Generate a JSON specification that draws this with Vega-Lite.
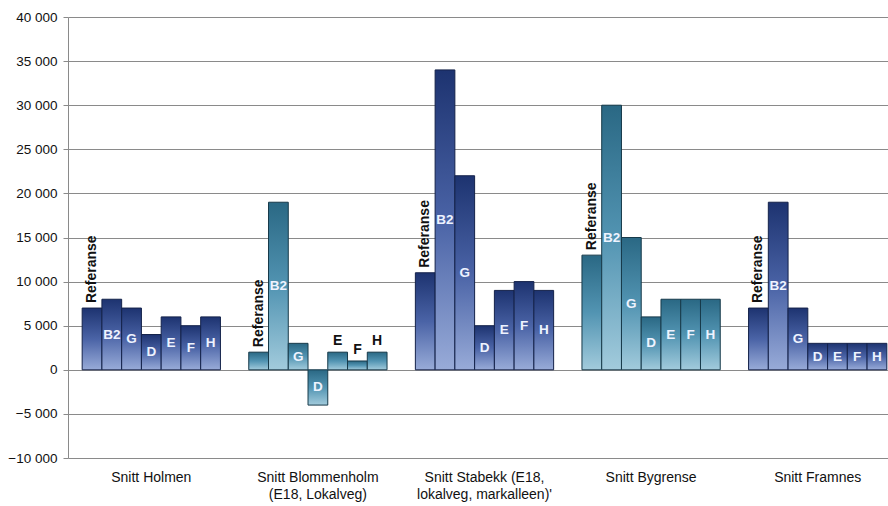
{
  "$schema": "https://vega.github.io/schema/vega-lite/v6.json",
  "autosize": "none",
  "width": 820,
  "height": 441,
  "padding": {"left": 68, "top": 17, "right": 0, "bottom": 48},
  "background": "white",
  "config": {
    "view": {"stroke": null},
    "font": "Liberation Sans",
    "axis": {"labelFont": "Liberation Sans"}
  },
  "data": {
    "values": [
      {"group": "Snitt Holmen", "scenario": "Referanse", "value": 7000},
      {"group": "Snitt Holmen", "scenario": "B2", "value": 8000},
      {"group": "Snitt Holmen", "scenario": "G", "value": 7000},
      {"group": "Snitt Holmen", "scenario": "D", "value": 4000},
      {"group": "Snitt Holmen", "scenario": "E", "value": 6000},
      {"group": "Snitt Holmen", "scenario": "F", "value": 5000},
      {"group": "Snitt Holmen", "scenario": "H", "value": 6000},
      {"group": "Snitt Blommenholm (E18, Lokalveg)", "scenario": "Referanse", "value": 2000},
      {"group": "Snitt Blommenholm (E18, Lokalveg)", "scenario": "B2", "value": 19000},
      {"group": "Snitt Blommenholm (E18, Lokalveg)", "scenario": "G", "value": 3000},
      {"group": "Snitt Blommenholm (E18, Lokalveg)", "scenario": "D", "value": -4000},
      {"group": "Snitt Blommenholm (E18, Lokalveg)", "scenario": "E", "value": 2000},
      {"group": "Snitt Blommenholm (E18, Lokalveg)", "scenario": "F", "value": 1000},
      {"group": "Snitt Blommenholm (E18, Lokalveg)", "scenario": "H", "value": 2000},
      {"group": "Snitt Stabekk (E18, lokalveg, markalleen)'", "scenario": "Referanse", "value": 11000},
      {"group": "Snitt Stabekk (E18, lokalveg, markalleen)'", "scenario": "B2", "value": 34000},
      {"group": "Snitt Stabekk (E18, lokalveg, markalleen)'", "scenario": "G", "value": 22000},
      {"group": "Snitt Stabekk (E18, lokalveg, markalleen)'", "scenario": "D", "value": 5000},
      {"group": "Snitt Stabekk (E18, lokalveg, markalleen)'", "scenario": "E", "value": 9000},
      {"group": "Snitt Stabekk (E18, lokalveg, markalleen)'", "scenario": "F", "value": 10000},
      {"group": "Snitt Stabekk (E18, lokalveg, markalleen)'", "scenario": "H", "value": 9000},
      {"group": "Snitt Bygrense", "scenario": "Referanse", "value": 13000},
      {"group": "Snitt Bygrense", "scenario": "B2", "value": 30000},
      {"group": "Snitt Bygrense", "scenario": "G", "value": 15000},
      {"group": "Snitt Bygrense", "scenario": "D", "value": 6000},
      {"group": "Snitt Bygrense", "scenario": "E", "value": 8000},
      {"group": "Snitt Bygrense", "scenario": "F", "value": 8000},
      {"group": "Snitt Bygrense", "scenario": "H", "value": 8000},
      {"group": "Snitt Framnes", "scenario": "Referanse", "value": 7000},
      {"group": "Snitt Framnes", "scenario": "B2", "value": 19000},
      {"group": "Snitt Framnes", "scenario": "G", "value": 7000},
      {"group": "Snitt Framnes", "scenario": "D", "value": 3000},
      {"group": "Snitt Framnes", "scenario": "E", "value": 3000},
      {"group": "Snitt Framnes", "scenario": "F", "value": 3000},
      {"group": "Snitt Framnes", "scenario": "H", "value": 3000}
    ]
  },
  "encoding": {
    "x": {
      "field": "group",
      "type": "nominal",
      "sort": ["Snitt Holmen", "Snitt Blommenholm (E18, Lokalveg)", "Snitt Stabekk (E18, lokalveg, markalleen)'", "Snitt Bygrense", "Snitt Framnes"],
      "scale": {"range": [0, 833], "paddingInner": 0.17, "paddingOuter": 0.085},
      "axis": {
        "title": null,
        "ticks": false,
        "domain": false,
        "labelAngle": 0,
        "labelFontSize": 14,
        "labelColor": "#111111",
        "labelPadding": 12,
        "labelLineHeight": 17,
        "labelExpr": "datum.value == 'Snitt Blommenholm (E18, Lokalveg)' ? ['Snitt Blommenholm', '(E18, Lokalveg)'] : datum.value == \"Snitt Stabekk (E18, lokalveg, markalleen)'\" ? ['Snitt Stabekk (E18,', \"lokalveg, markalleen)'\"] : datum.value"
      }
    },
    "xOffset": {
      "field": "scenario",
      "type": "nominal",
      "sort": ["Referanse", "B2", "G", "D", "E", "F", "H"],
      "scale": {"paddingInner": 0, "paddingOuter": 0}
    }
  },
  "layer": [
    {
      "transform": [{"filter": "indexof(['Snitt Holmen', 'Snitt Framnes', \"Snitt Stabekk (E18, lokalveg, markalleen)'\"], datum.group) >= 0"}],
      "mark": {
        "type": "bar",
        "stroke": "#14224a",
        "strokeWidth": 1,
        "color": {
          "gradient": "linear",
          "x1": 0, "y1": 0, "x2": 0, "y2": 1,
          "stops": [
            {"offset": 0, "color": "#1d3370"},
            {"offset": 0.5, "color": "#4a63a6"},
            {"offset": 1, "color": "#98abd8"}
          ]
        }
      },
      "encoding": {
        "y": {
          "field": "value",
          "type": "quantitative",
          "scale": {"domain": [-10000, 40000], "nice": false, "zero": false},
          "axis": {
            "title": null,
            "values": [-10000, -5000, 0, 5000, 10000, 15000, 20000, 25000, 30000, 35000, 40000],
            "grid": true,
            "gridColor": "#8a8a8a",
            "gridOpacity": 1,
            "domainColor": "#8a8a8a",
            "tickColor": "#8a8a8a",
            "tickSize": 5,
            "labelPadding": 6,
            "labelFontSize": 13.5,
            "labelColor": "#111111",
            "labelExpr": "replace(format(datum.value, ','), ',', ' ')"
          }
        }
      }
    },
    {
      "transform": [{"filter": "indexof(['Snitt Bygrense', 'Snitt Blommenholm (E18, Lokalveg)'], datum.group) >= 0"}],
      "mark": {
        "type": "bar",
        "stroke": "#173a4a",
        "strokeWidth": 1,
        "color": {
          "gradient": "linear",
          "x1": 0, "y1": 0, "x2": 0, "y2": 1,
          "stops": [
            {"offset": 0, "color": "#2a6884"},
            {"offset": 0.5, "color": "#5294b2"},
            {"offset": 1, "color": "#a2cbdc"}
          ]
        }
      },
      "encoding": {
        "y": {"field": "value", "type": "quantitative"}
      }
    },
    {
      "transform": [
        {"filter": "datum.scenario != 'Referanse' && !(datum.group == 'Snitt Blommenholm (E18, Lokalveg)' && indexof(['E', 'F', 'H'], datum.scenario) >= 0)"},
        {"calculate": "datum.value / 2", "as": "mid"}
      ],
      "mark": {"type": "text", "fontWeight": "bold", "fontSize": 13.5, "color": "#eef3ff", "baseline": "middle", "align": "center"},
      "encoding": {
        "y": {"field": "mid", "type": "quantitative"},
        "text": {"field": "scenario"}
      }
    },
    {
      "transform": [
        {"filter": "datum.group == 'Snitt Blommenholm (E18, Lokalveg)' && indexof(['E', 'F', 'H'], datum.scenario) >= 0"}
      ],
      "mark": {"type": "text", "fontWeight": "bold", "fontSize": 14, "color": "#111111", "baseline": "bottom", "align": "center", "dy": -4},
      "encoding": {
        "y": {"field": "value", "type": "quantitative"},
        "text": {"field": "scenario"}
      }
    },
    {
      "transform": [{"filter": "datum.scenario == 'Referanse'"}],
      "mark": {"type": "text", "fontWeight": "bold", "fontSize": 14, "color": "#111111", "angle": 270, "align": "left", "baseline": "middle", "dx": 5},
      "encoding": {
        "y": {"field": "value", "type": "quantitative"},
        "text": {"field": "scenario"}
      }
    }
  ]
}
